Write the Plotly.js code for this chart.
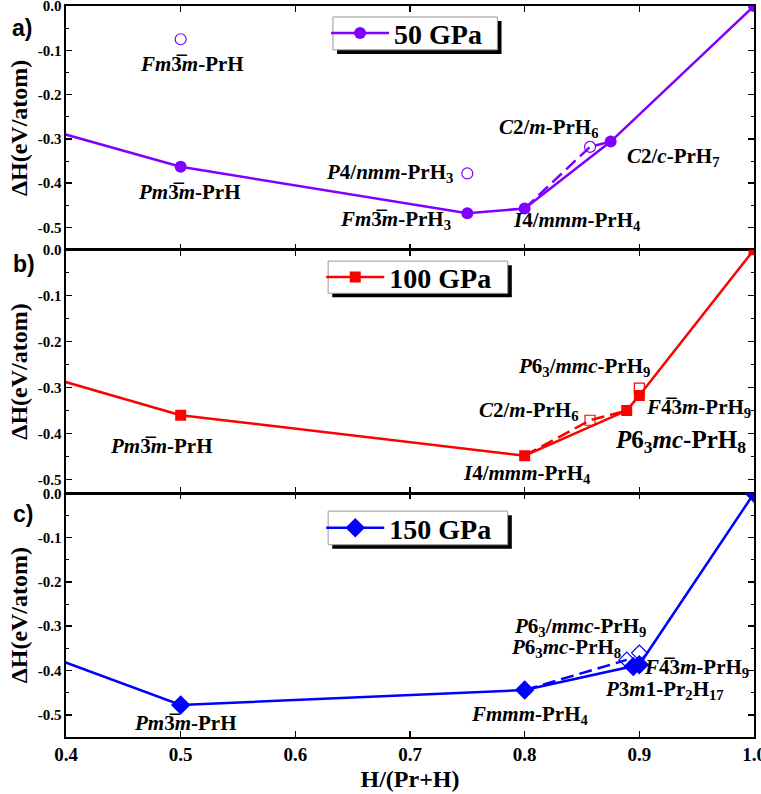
<!DOCTYPE html>
<html>
<head>
<meta charset="utf-8">
<script src="https://cdn.plot.ly/plotly-3.0.1.min.js"></script>
<style>html,body{margin:0;padding:0;background:#fff;}#chart{width:761px;height:794px;}</style>
</head>
<body>
<div id="chart"></div>
<script>
// ---- data ----
const hullX50 = [0, 0.5, 0.75, 0.8, 0.875, 1.0];
const hullY50 = [0, -0.363, -0.468, -0.457, -0.306, 0];
const openX50 = [0.5, 0.75, 0.857];
const openY50 = [-0.075, -0.378, -0.318];
const dashX50 = [0.8, 0.857, 0.875];
const dashY50 = [-0.457, -0.318, -0.306];

const hullX100 = [0, 0.5, 0.8, 0.889, 0.9, 1.0];
const hullY100 = [0, -0.360, -0.448, -0.350, -0.317, 0];
const openX100 = [0.857, 0.9];
const openY100 = [-0.371, -0.301];
const dashX100 = [0.8, 0.857, 0.889];
const dashY100 = [-0.448, -0.371, -0.350];

const hullX150 = [0, 0.5, 0.8, 0.8947, 0.9, 1.0];
const hullY150 = [0, -0.4775, -0.444, -0.391, -0.387, 0];
const openX150 = [0.889, 0.9];
const openY150 = [-0.376, -0.360];
const dashX150 = [0.8, 0.889];
const dashY150 = [-0.444, -0.376];

const seriesNames = ['50 GPa', '100 GPa', '150 GPa'];
const xTickVals = [0.4, 0.5, 0.6, 0.7, 0.8, 0.9, 1.0];
const xTickText = ['0.4', '0.5', '0.6', '0.7', '0.8', '0.9', '1.0'];
const yTickVals = [0, -0.1, -0.2, -0.3, -0.4, -0.5];
const yTickText = ['0.0', '-0.1', '-0.2', '-0.3', '-0.4', '-0.5'];
const yMinorVals = [-0.05, -0.15, -0.25, -0.35, -0.45];

const O = '\u0305';
const labels50 = [
  '<i>Fm</i>3' + O + '<i>m</i>-PrH',
  '<i>Pm</i>3' + O + '<i>m</i>-PrH',
  '<i>P</i>4/<i>nmm</i>-PrH<sub>3</sub>',
  '<i>Fm</i>3' + O + '<i>m</i>-PrH<sub>3</sub>',
  '<i>I</i>4/<i>mmm</i>-PrH<sub>4</sub>',
  '<i>C</i>2/<i>m</i>-PrH<sub>6</sub>',
  '<i>C</i>2/<i>c</i>-PrH<sub>7</sub>'
];
const labels100 = [
  '<i>Pm</i>3' + O + '<i>m</i>-PrH',
  '<i>I</i>4/<i>mmm</i>-PrH<sub>4</sub>',
  '<i>C</i>2/<i>m</i>-PrH<sub>6</sub>',
  '<i>P</i>6<sub>3</sub>/<i>mmc</i>-PrH<sub>9</sub>',
  '<i>F</i>4' + O + '3<i>m</i>-PrH<sub>9</sub>',
  '<i>P</i>6<sub>3</sub><i>mc</i>-PrH<sub>8</sub>'
];
const labels150 = [
  '<i>Pm</i>3' + O + '<i>m</i>-PrH',
  '<i>Fmmm</i>-PrH<sub>4</sub>',
  '<i>P</i>6<sub>3</sub>/<i>mmc</i>-PrH<sub>9</sub>',
  '<i>P</i>6<sub>3</sub><i>mc</i>-PrH<sub>8</sub>',
  '<i>F</i>4' + O + '3<i>m</i>-PrH<sub>9</sub>',
  '<i>P</i>3<i>m</i>1-Pr<sub>2</sub>H<sub>17</sub>'
];
const panelTags = ['a)', 'b)', 'c)'];

// ---- styling ----
const SERIF = 'Liberation Serif';
const SANS = 'Liberation Sans';
const cA = '#8000ff', cB = '#ff0000', cC = '#0000ff';

function hull(x, y, xa, ya, color, sym, size, name, leg) {
  return {x: x, y: y, xaxis: xa, yaxis: ya, mode: 'lines+markers', name: name, legend: leg,
    line: {color: color, width: 2.5}, marker: {color: color, symbol: sym, size: size},
    hoverinfo: 'skip'};
}
function dash(x, y, xa, ya, color) {
  return {x: x, y: y, xaxis: xa, yaxis: ya, mode: 'lines', showlegend: false,
    line: {color: color, width: 2.5, dash: '13px,6px'}, hoverinfo: 'skip'};
}
function opens(x, y, xa, ya, color, sym, size) {
  return {x: x, y: y, xaxis: xa, yaxis: ya, mode: 'markers', showlegend: false,
    marker: {color: color, symbol: sym, size: size, line: {color: color, width: 1.2}}, hoverinfo: 'skip'};
}

const traces = [
  dash(dashX50, dashY50, 'x', 'y', cA),
  hull(hullX50, hullY50, 'x', 'y', cA, 'circle', 12, seriesNames[0], 'legend'),
  opens(openX50, openY50, 'x', 'y', cA, 'circle-open', 11),
  dash(dashX100, dashY100, 'x2', 'y2', cB),
  hull(hullX100, hullY100, 'x2', 'y2', cB, 'square', 11, seriesNames[1], 'legend2'),
  opens(openX100, openY100, 'x2', 'y2', cB, 'square-open', 10),
  dash(dashX150, dashY150, 'x3', 'y3', cC),
  hull(hullX150, hullY150, 'x3', 'y3', cC, 'diamond', 15, seriesNames[2], 'legend3'),
  opens(openX150, openY150, 'x3', 'y3', cC, 'diamond-open', 12)
];

function xax(anchor, show) {
  return {anchor: anchor, range: [0.4, 1.0], tickvals: xTickVals, ticktext: xTickText,
    showticklabels: show, ticklabeloverflow: 'allow', ticks: 'inside', ticklen: 6, tickwidth: 1.5, tickcolor: '#000',
    mirror: 'ticks', showline: true, linewidth: 1.6, linecolor: '#000', showgrid: false, zeroline: false,
    tickfont: {family: SERIF, size: 19, weight: 'bold', color: '#000'}};
}
function yax(anchor, domain, range) {
  return {anchor: anchor, domain: domain, range: range, tickvals: yTickVals, ticktext: yTickText,
    ticklabeloverflow: 'allow',
    ticks: 'inside', ticklen: 6, tickwidth: 1.5, tickcolor: '#000',
    minor: {ticks: 'inside', tickvals: yMinorVals, ticklen: 3, tickwidth: 1, tickcolor: '#000'},
    mirror: 'ticks', showline: true, linewidth: 1.6, linecolor: '#000', showgrid: false, zeroline: false,
    tickfont: {family: SERIF, size: 15, weight: 'bold', color: '#000'},
    title: {text: '\u0394H(eV/atom)', font: {family: SERIF, size: 24, weight: 'bold', color: '#000'}, standoff: 3}};
}

function ann(text, x, y, xref, yref, size) {
  return {text: text, x: x, y: y, xref: xref, yref: yref, showarrow: false,
    xanchor: 'center', yanchor: 'middle',
    font: {family: SERIF, size: size || 21, weight: 'bold', color: '#000'}};
}
function tag(text, x, y) {
  return {text: text, xref: 'paper', yref: 'paper', x: x, y: y, showarrow: false,
    xanchor: 'center', yanchor: 'middle',
    font: {family: SANS, size: 23, weight: 'bold', color: '#000'}};
}
const annotations = [
  ann(labels50[0], 0.510, -0.131, 'x', 'y'),
  ann(labels50[1], 0.508, -0.420, 'x', 'y'),
  ann(labels50[2], 0.682, -0.377, 'x', 'y'),
  ann(labels50[3], 0.687, -0.483, 'x', 'y'),
  ann(labels50[4], 0.846, -0.485, 'x', 'y'),
  ann(labels50[5], 0.821, -0.275, 'x', 'y'),
  ann(labels50[6], 0.930, -0.341, 'x', 'y'),
  ann(labels100[0], 0.483, -0.428, 'x2', 'y2'),
  ann(labels100[1], 0.802, -0.489, 'x2', 'y2'),
  ann(labels100[2], 0.804, -0.352, 'x2', 'y2'),
  ann(labels100[3], 0.852, -0.255, 'x2', 'y2'),
  ann(labels100[4], 0.952, -0.344, 'x2', 'y2'),
  ann(labels100[5], 0.936, -0.417, 'x2', 'y2', 25),
  ann(labels150[0], 0.504, -0.518, 'x3', 'y3'),
  ann(labels150[1], 0.805, -0.500, 'x3', 'y3'),
  ann(labels150[2], 0.848, -0.302, 'x3', 'y3'),
  ann(labels150[3], 0.836, -0.349, 'x3', 'y3'),
  ann(labels150[4], 0.950, -0.394, 'x3', 'y3'),
  ann(labels150[5], 0.922, -0.444, 'x3', 'y3'),
  tag(panelTags[0], -0.064, 0.970),
  tag(panelTags[1], -0.061, 0.647),
  tag(panelTags[2], -0.062, 0.305)
];

function box(x0, x1, y0, y1) {
  return [
    {type: 'rect', xref: 'paper', yref: 'paper', x0: x0 + 0.006, x1: x1 + 0.006, y0: y0 - 0.0055, y1: y1 - 0.0055,
      fillcolor: '#000', line: {width: 0}, layer: 'above'},
    {type: 'rect', xref: 'paper', yref: 'paper', x0: x0, x1: x1, y0: y0, y1: y1,
      fillcolor: '#fff', line: {color: '#999', width: 1}, layer: 'above'}
  ];
}
const shapes = [].concat(
  box(0.388, 0.627, 0.940, 0.985),
  box(0.381, 0.642, 0.607, 0.651),
  box(0.381, 0.642, 0.263, 0.309)
);

function leg(x, y) {
  return {x: x, y: y, xanchor: 'left', yanchor: 'middle', bgcolor: 'rgba(0,0,0,0)', borderwidth: 0,
    itemwidth: 58, font: {family: SERIF, size: 28, weight: 'bold', color: '#000'}};
}

const layout = {
  width: 761, height: 794,
  margin: {l: 66, r: 7, t: 6, b: 57},
  paper_bgcolor: '#fff', plot_bgcolor: '#fff',
  showlegend: true,
  xaxis: xax('y', false),
  xaxis2: Object.assign(xax('y2', false), {matches: 'x'}),
  xaxis3: Object.assign(xax('y3', true), {matches: 'x',
    title: {text: 'H/(Pr+H)', font: {family: SERIF, size: 24, weight: 'bold', color: '#000'}, standoff: 6}}),
  yaxis: yax('x', [2/3, 1], [-0.55, 0]),
  yaxis2: yax('x2', [1/3, 2/3], [-0.53, 0]),
  yaxis3: yax('x3', [0, 1/3], [-0.55, 0]),
  legend: leg(0.378, 0.9625),
  legend2: leg(0.371, 0.629),
  legend3: leg(0.371, 0.286),
  annotations: annotations,
  shapes: shapes
};

Plotly.newPlot('chart', traces, layout, {displayModeBar: false, staticPlot: true});
</script>
</body>
</html>
